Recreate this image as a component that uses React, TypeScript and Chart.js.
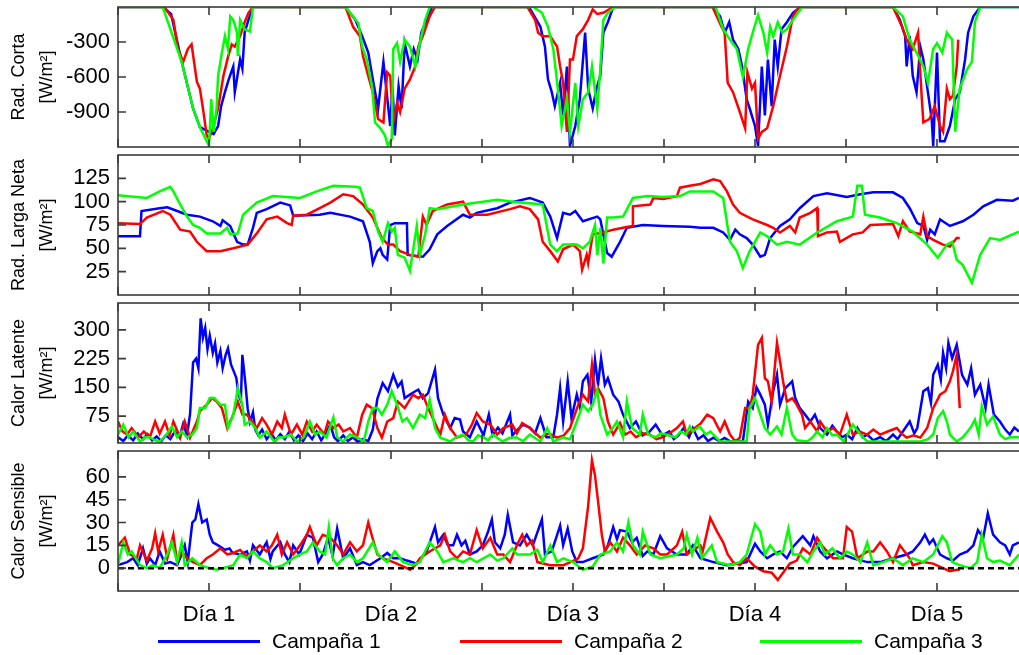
import React, { useEffect, useRef } from "react";
import { Chart, registerables } from "chart.js";

Chart.register(...registerables);

// ---------- axis / label data ----------
const xTickHours = [0, 12, 24, 36, 48, 60, 72, 84, 96, 108, 120];
const dayLabelHours = [12, 36, 60, 84, 108];
const dayLabels = ["Día 1", "Día 2", "Día 3", "Día 4", "Día 5"];
const seriesNames = ["Campaña 1", "Campaña 2", "Campaña 3"];
const seriesColors = ["#0000ff", "#ff0000", "#00ff00"];

const radCortaTitle = ["Rad. Corta", "[W/m²]"];
const radLargaTitle = ["Rad. Larga Neta", "[W/m²]"];
const latenteTitle = ["Calor Latente", "[W/m²]"];
const sensibleTitle = ["Calor Sensible", "[W/m²]"];

const radCortaTicks = [-900, -600, -300];
const radLargaTicks = [25, 50, 75, 100, 125];
const latenteTicks = [75, 150, 225, 300];
const sensibleTicks = [0, 15, 30, 45, 60];

// ---------- series: [hour, value] ----------
const radCortaC1 = [[0,0],[5.9,0],[7,-60],[8.4,-470],[9.9,-870],[10.8,-1030],[11.7,-1060],[12.6,-1090],[13.2,-1020],[13.6,-850],[14.1,-730],[14.6,-620],[15.2,-510],[15.4,-730],[16.1,-450],[16.4,-530],[16.7,-220],[17.2,-110],[17.8,0],
[30,0],[31.3,-110],[32.2,-250],[33,-390],[33.6,-620],[34.3,-870],[35,-470],[35.9,-1020],[36.2,-680],[36.5,-1100],[37,-680],[37.4,-870],[37.8,-310],[38.5,-510],[39,-360],[39.5,-450],[40,-220],[40.7,-110],[41.4,0],
[54.2,0],[55.7,-170],[56.3,-340],[56.7,-620],[57.2,-730],[57.6,-850],[58.3,-650],[58.7,-930],[59.2,-510],[59.6,-1190],[60.3,-1020],[60.9,-790],[61.6,-220],[62,-700],[62.6,-870],[63.1,-700],[63.6,-590],[64,-220],[64.6,-130],[65.3,0],
[78.4,0],[79.4,-80],[80,-220],[80.6,-130],[81.1,-280],[81.8,-360],[82.3,-510],[82.9,-790],[83.3,-870],[84,-1020],[84.4,-1190],[84.9,-510],[85.3,-930],[85.7,-450],[86.2,-850],[86.6,-280],[87,-510],[87.5,-190],[88.2,-130],[89,-50],[90,0],
[102.2,0],[103.1,-110],[103.8,-250],[104,-510],[104.4,-250],[104.8,-590],[105.3,-730],[105.8,-340],[106.2,-450],[106.8,-730],[107.3,-960],[107.5,-1190],[108,-390],[108.4,-1150],[109,-1150],[109.7,-1020],[110.4,-790],[111,-730],[111.7,-450],[112.1,-220],[112.8,-80],[113.7,0],[120,0]];

const radCortaC2 = [[0,0],[6.1,0],[7.3,-110],[7.9,-360],[8.6,-470],[9.2,-360],[9.7,-320],[10.4,-640],[10.8,-700],[11.2,-870],[11.7,-1100],[12,-1130],[12.5,-1040],[13.2,-870],[13.9,-590],[14.5,-430],[15,-320],[15.4,-340],[16.1,-250],[16.7,-130],[17.2,-50],[17.8,0],
[30,0],[31,-170],[31.9,-250],[32.3,-420],[33,-590],[33.6,-730],[34.3,-960],[35,-990],[35.5,-560],[35.9,-590],[36.3,-990],[36.8,-820],[37.2,-900],[37.8,-700],[38.5,-620],[39.2,-510],[39.6,-340],[40.2,-250],[41.1,-80],[41.8,0],
[54,0],[55,-110],[55.4,-220],[56,-250],[57,-250],[57.9,-340],[58.3,-510],[58.7,-650],[59.2,-1070],[59.6,-450],[60,-450],[60.5,-250],[60.9,-220],[61.3,-190],[62,-110],[62.6,-20],[63.2,-60],[64,-50],[65.3,0],
[78.4,0],[79.6,-170],[80,-220],[80.4,-650],[81.1,-730],[82,-900],[82.7,-1040],[83,-560],[83.6,-700],[84,-650],[84.4,-1130],[84.9,-1070],[85.6,-1040],[86.4,-850],[87.3,-590],[88.2,-340],[89,-80],[89.8,0],
[102.2,0],[103.4,-170],[104,-280],[104.8,-360],[105.5,-220],[106,-790],[106.2,-990],[107,-960],[107.7,-850],[108.4,-1020],[108.8,-1070],[109.3,-700],[109.7,-790],[110.1,-760],[110.6,-510],[110.8,-280]];

const radCortaC3 = [[0,0],[5.9,0],[8.4,-470],[9.9,-870],[10.8,-1030],[12,-1190],[12.3,-790],[12.6,-1070],[13,-870],[13.2,-590],[13.7,-390],[14.1,-250],[14.5,-360],[14.8,-80],[15.2,-110],[15.7,-220],[15.8,-420],[16.1,-110],[16.7,-190],[17.4,-210],[17.8,0],
[30,0],[31.7,-140],[32.2,-340],[32.8,-450],[33.5,-680],[33.9,-990],[34.6,-1040],[35.2,-1100],[35.6,-1190],[36.1,-1130],[36.3,-360],[36.8,-310],[37.2,-470],[37.8,-280],[38.5,-340],[39.2,-510],[39.8,-310],[40.5,-110],[41.1,0],
[54.8,0],[55.9,-50],[56.7,-170],[57.4,-360],[58,-700],[58.5,-1020],[59.2,-790],[59.6,-1070],[60.3,-650],[60.7,-1020],[61.3,-790],[62,-730],[62.5,-510],[63.2,-870],[63.6,-530],[64,-110],[64.6,-50],[65.5,0],
[78.8,0],[79.8,-190],[80.7,-280],[81.6,-360],[82.4,-600],[83.1,-360],[83.7,-220],[84.4,-70],[85.1,-220],[85.6,-390],[86,-170],[86.4,-250],[87,-130],[87.6,-220],[88.2,-190],[89,-110],[90.2,0],
[102.2,0],[103.5,-80],[104.4,-280],[105.3,-390],[106.2,-510],[106.8,-650],[107.5,-360],[108,-310],[108.7,-390],[109.3,-220],[110,-280],[110.4,-1070],[111,-700],[112,-530],[112.6,-470],[113,-130],[113.7,0],[120,0]];

const radLargaC1 = [[0,63],[2.9,63],[3.1,90],[5.5,93],[6.5,94],[7.8,90],[9.1,86],[10.8,84],[12.5,79],[13.5,74],[13.8,80],[14.8,74],[15.7,57],[16.5,54],[17.1,54],[17.8,72],[18.3,88],[19.6,92],[21.4,99],[22.7,96],[23.1,85],[26.6,86],[28,88],[30.6,84],[32.3,79],[33.2,57],[33.6,34],[34.2,47],[34.6,50],[34.9,43],[35.5,38],[35.9,75],[36.5,77],[38.1,77],[38.2,43],[40.2,41],[41.1,49],[42.1,65],[43.4,74],[45.5,86],[46.4,83],[47.3,88],[50,93],[51.7,99],[54.3,104],[56,99],[57,84],[57.9,61],[58.7,88],[59.6,86],[60.3,90],[61.3,79],[63.2,84],[63.6,81],[64.5,45],[65.1,41],[66.2,57],[67.1,72],[69.2,75],[71.9,74],[75.4,73],[76.8,72],[78.5,72],[79.8,67],[80.7,59],[81.4,70],[82,65],[82.9,61],[83.7,54],[84.7,41],[85.3,43],[86,61],[87.3,74],[88.6,81],[89.9,93],[91.7,106],[93.5,109],[96.1,105],[97.9,108],[99.6,110],[102.2,110],[103.5,104],[104.4,93],[105.4,77],[106.2,74],[106.7,59],[107.1,70],[107.7,65],[108.4,81],[109.7,74],[111.4,79],[112.8,86],[114.1,95],[115.9,102],[118,101],[118.8,104]];

const radLargaC2 = [[0,77],[2.9,76],[3.8,83],[5.9,90],[6.9,86],[8.2,70],[9.5,68],[10.4,57],[11.7,47],[13.5,47],[15.2,50],[17.1,54],[18.3,66],[19.6,81],[21,84],[22.3,77],[22.9,75],[23.1,85],[24.9,86],[26.6,93],[28,99],[29.7,108],[31,106],[32.3,97],[33.6,83],[34.8,61],[35.6,54],[36.3,54],[37.2,47],[38.5,43],[39.6,41],[40.2,84],[40.7,75],[41.5,90],[43.4,97],[45.5,100],[46.4,86],[48.7,86],[51.7,92],[53,95],[54.3,92],[55.4,81],[56,57],[57,47],[58,36],[58.7,49],[60,54],[60.9,47],[61.2,27],[61.8,43],[62,34],[62.6,65],[64,67],[65.3,70],[66.6,72],[67.8,74],[67.9,95],[70.2,97],[70.6,104],[71.9,103],[73.7,106],[74.1,115],[75.4,117],[76.8,119],[78.5,124],[79.4,122],[80.3,111],[81.1,97],[82,88],[83.7,81],[85.6,75],[86.4,72],[87.3,67],[88.6,74],[89.3,67],[89.9,83],[91.3,88],[92.2,93],[92.3,63],[93.5,67],[94.8,68],[95.2,57],[96.9,65],[98.2,67],[99.2,75],[102.2,76],[102.9,63],[103.5,79],[104.4,68],[105.8,65],[106.2,84],[106.7,63],[107.5,59],[108.8,54],[109.7,52],[110.6,61],[111,61]];

const radLargaC3 = [[0,107],[3.8,104],[5.5,111],[6.9,116],[7.3,111],[8.2,97],[9.1,84],[9.9,75],[10.8,72],[11.7,66],[13.5,66],[14.4,72],[14.8,65],[15.8,66],[16.5,86],[18.3,99],[20.4,106],[24,104],[26.2,111],[28.4,117],[31.3,116],[31.9,115],[32.8,93],[33.6,90],[34.3,68],[34.9,57],[35.6,77],[36.1,68],[36.5,72],[36.9,43],[37.8,40],[38.5,26],[39.4,74],[39.8,43],[40.5,65],[41.1,93],[42.1,92],[45.5,97],[50,102],[52.1,100],[56,97],[57,54],[57.9,47],[58.7,54],[60.5,54],[61.3,50],[62.2,57],[62.9,75],[63.2,43],[63.6,72],[64,34],[64.5,83],[65.3,83],[66.6,84],[67.9,104],[69.8,106],[71.9,105],[74.1,106],[75.4,111],[76.4,111],[78.5,111],[79.8,104],[80.7,57],[81.6,47],[82.4,29],[83.3,47],[84.7,67],[85.6,63],[86.9,54],[88.2,57],[89.9,54],[92.2,67],[94.8,79],[96.9,84],[97.5,117],[98.1,117],[98.5,86],[100.5,83],[102.7,77],[104.8,68],[106.7,54],[108.1,40],[109.3,54],[110,57],[110.6,38],[111.4,32],[112.6,13],[113.7,43],[115,61],[116.3,59],[118.8,68]];

const latenteC1 = [[0,20],[0.7,10],[1.3,25],[2,12],[2.6,30],[3.3,15],[3.9,28],[4.5,12],[5.1,22],[5.7,10],[6.3,25],[6.9,15],[7.5,35],[8.1,20],[8.6,55],[9.1,25],[9.5,80],[9.9,215],[10.3,225],[10.6,200],[10.9,330],[11.2,280],[11.5,305],[11.8,250],[12.1,285],[12.5,240],[12.8,265],[13.1,215],[13.5,245],[13.8,200],[14.2,235],[14.5,252],[14.9,210],[15.2,195],[15.6,175],[15.9,130],[16.2,115],[16.4,235],[16.8,160],[17.1,95],[17.4,60],[17.8,85],[18.1,40],[18.5,25],[19,40],[19.6,15],[20.2,30],[20.8,12],[21.4,28],[22,15],[22.6,35],[23.2,12],[23.8,25],[24.4,10],[25,30],[25.6,15],[26.2,35],[26.8,12],[27.4,30],[28,53],[28.5,20],[29,10],[29.7,25],[30.3,10],[31,20],[31.6,8],[32.3,15],[33,10],[33.6,40],[34.2,120],[34.9,161],[35.6,140],[36.3,183],[36.9,152],[37.4,165],[37.8,122],[38.5,131],[39.2,140],[39.6,144],[40.2,122],[40.9,135],[41.8,196],[42.2,122],[42.9,79],[43.8,44],[44.4,70],[45.1,66],[45.5,35],[46.4,20],[47.3,61],[48.2,25],[48.9,79],[49.4,25],[50.1,45],[50.7,30],[51.7,79],[52,25],[52.7,40],[53.4,53],[54.3,45],[55,30],[55.7,70],[56.5,20],[57.4,20],[57.9,80],[58.3,148],[58.7,61],[59.3,166],[59.8,70],[60.5,131],[60.9,100],[61.3,166],[61.9,183],[62.4,113],[62.9,222],[63.3,157],[63.7,226],[64.2,157],[64.6,174],[65.3,131],[66,113],[66.6,79],[67.5,44],[68.3,61],[69.2,25],[70.1,35],[70.9,53],[71.8,25],[72.7,35],[73.3,15],[73.9,25],[74.6,44],[75.3,20],[75.8,44],[76.5,15],[77.2,25],[77.8,10],[78.5,19],[79.3,10],[80,18],[80.8,8],[81.6,12],[82.4,9],[83.1,113],[83.7,96],[84.2,150],[84.7,131],[85.3,105],[85.7,53],[86.4,140],[86.9,183],[87.3,105],[88,148],[88.9,166],[89.3,122],[89.9,96],[90.6,79],[91.3,61],[91.9,79],[92.6,44],[93.5,27],[94.2,50],[94.8,35],[95.5,20],[96.1,27],[96.8,15],[97.5,44],[98.2,20],[98.8,27],[99.6,12],[100.5,20],[101.3,10],[102.2,27],[102.8,15],[103.5,35],[104.4,61],[105,30],[105.4,44],[106.2,140],[106.8,148],[107.2,110],[107.5,183],[108.1,209],[108.5,170],[108.8,240],[109.2,200],[109.5,266],[110,226],[110.6,261],[111.3,183],[112,157],[112.5,200],[113,131],[113.7,157],[114.4,96],[114.8,157],[115.5,79],[116.3,61],[117,40],[117.6,27],[118.2,45],[118.8,35]];

const latenteC2 = [[0,61],[0.6,35],[1.2,27],[1.8,44],[2.7,20],[3.4,35],[4.2,20],[4.9,61],[5.5,30],[6.2,61],[6.8,25],[7.3,61],[8.2,19],[8.8,61],[9.5,19],[10.4,61],[10.8,88],[11.7,105],[12.4,122],[13,113],[13.7,96],[14.4,44],[15.2,79],[15.8,113],[16.4,79],[17,79],[17.7,61],[18.3,44],[19,70],[19.6,53],[20.3,27],[21,61],[21.6,44],[22,79],[22.8,27],[23.6,53],[24.3,27],[24.9,61],[25.6,35],[26.2,53],[27.2,27],[27.7,61],[28.4,44],[29.1,53],[29.7,35],[30.6,44],[31.5,19],[32.2,79],[32.8,105],[33.5,96],[34.2,44],[34.8,19],[35.5,61],[36.3,70],[36.9,113],[37.8,96],[38.9,131],[39.6,122],[40.2,131],[40.9,96],[41.5,70],[42.5,27],[43.1,79],[43.8,44],[44.7,19],[45.9,27],[46.6,50],[47.3,83],[48.1,61],[49.1,53],[50,27],[50.8,44],[52,53],[52.6,30],[53.3,57],[54.3,44],[55.7,19],[56.8,30],[57.9,19],[58.8,25],[59.6,44],[60.7,105],[61.3,131],[62,113],[62.5,209],[62.9,131],[63.3,148],[64,122],[64.6,61],[65.3,27],[66.2,57],[66.9,27],[67.6,35],[68.3,20],[69.2,30],[70.1,27],[71,15],[71.8,20],[72.7,30],[73.7,44],[74.5,61],[75,27],[75.8,40],[76.8,55],[77.7,79],[78.5,70],[79.4,35],[80,61],[80.7,27],[81.4,9],[82,19],[82.7,96],[83.3,96],[83.7,131],[84.4,261],[84.9,279],[85.3,174],[85.7,166],[86.2,113],[86.9,266],[87.3,218],[87.7,166],[88.2,113],[88.9,122],[89.5,105],[90.2,79],[90.6,44],[91.3,61],[92.2,35],[92.6,61],[93.5,35],[94.3,44],[95.2,27],[96.1,79],[96.9,27],[97.8,35],[98.8,27],[99.6,40],[100.5,27],[101.5,35],[102.7,44],[103.3,30],[104,19],[104.9,25],[105.8,19],[106.7,44],[107.5,96],[108.4,131],[109.1,140],[109.7,166],[110.1,192],[110.6,235],[111,96]];

const latenteC3 = [[0,27],[0.7,53],[1.4,20],[2,35],[2.9,9],[3.6,20],[4.2,20],[4.9,12],[5.5,9],[6.4,27],[7.1,48],[7.8,20],[8.4,35],[9.1,20],[9.8,27],[10.4,44],[10.8,96],[11.5,96],[12.1,122],[12.7,122],[13.5,105],[14.1,105],[14.5,44],[15.2,79],[15.8,148],[16.4,105],[16.7,53],[17.4,61],[18.1,44],[18.7,19],[19.6,35],[20.6,9],[21.2,20],[21.9,20],[22.8,27],[23.6,9],[24.5,20],[25.3,61],[26,27],[26.6,35],[27.5,20],[28.4,72],[28.9,20],[29.7,9],[30.6,27],[31.5,20],[32.4,9],[33,61],[33.6,96],[34.2,96],[34.8,79],[35.5,105],[36.1,140],[36.8,105],[37.5,61],[38.1,70],[38.9,44],[39.8,79],[40.5,70],[41.1,118],[41.8,44],[42.5,19],[43.8,9],[44.6,20],[45.5,27],[46.2,12],[46.8,9],[47.5,25],[48.2,20],[48.8,12],[49.4,27],[50.7,9],[51.6,18],[52.5,20],[53.4,10],[54.3,27],[55.7,9],[56.6,44],[57.4,9],[58.7,20],[59.6,15],[60.5,61],[61.3,105],[62,88],[62.6,105],[63.2,144],[63.6,79],[64.5,27],[65.1,40],[65.8,61],[66.6,20],[67.1,113],[67.8,44],[68.8,27],[69.2,79],[69.9,27],[70.9,20],[71.6,30],[72.2,27],[73.5,20],[74.2,35],[74.9,27],[75.4,48],[75.8,35],[76.7,48],[77.5,27],[78.1,35],[79.4,9],[81.1,9],[82.9,9],[83.3,96],[84,122],[84.7,79],[85.3,44],[86,27],[86.9,48],[87.5,27],[88.2,96],[88.9,27],[89.5,12],[90.9,9],[91.6,20],[92.2,35],[92.9,20],[93.5,44],[94.2,25],[94.8,27],[95.7,9],[96.9,53],[97.9,27],[98.8,9],[100.5,9],[102.2,9],[104,9],[105.8,9],[106.8,15],[107.5,27],[108.1,70],[108.8,88],[109.3,61],[109.7,27],[110.6,9],[111.4,20],[112.4,44],[113,66],[113.5,27],[113.9,101],[114.6,53],[115.4,74],[116.3,27],[117,15],[117.6,20],[118.8,20]];

const sensibleC1 = [[0,2],[1.2,4],[2,6.5],[2.6,2],[3.3,13],[3.8,3],[4.2,6.5],[4.9,2],[5.5,11],[6.2,3],[6.9,4],[7.8,2],[8.3,8],[8.8,15],[9.2,4],[9.8,30],[10.2,32],[10.6,42],[11.1,30],[11.7,32],[12.1,22],[12.5,17],[13.2,15],[14.1,12],[14.7,13],[15.1,10],[16.1,9],[17,11],[17.4,5],[17.8,15],[18.7,9],[19.6,17],[20.1,6],[20.4,11],[21.4,17],[22,9],[22.6,4],[23.1,15],[23.9,9],[24.9,22],[25.7,20],[26.4,4],[27,9],[27.7,20],[28.3,8],[28.9,26],[29.7,6.5],[30.6,13],[31.5,2],[32.3,4],[33.2,2],[34.6,6.5],[35.5,10],[36.3,6.5],[37.2,6.5],[38.1,5],[39.4,3],[40.7,11],[41.8,27],[42.2,17],[42.9,22],[43.5,15],[44.2,15],[44.7,22],[45.3,15],[45.8,18],[46.4,9],[47.3,11],[48.1,15],[48.8,24],[49.3,32],[49.7,17],[50.4,13],[51,22],[51.4,35],[52.1,17],[53,15],[53.9,22],[54.7,15],[55.9,32],[56.3,9],[57.2,11],[58.3,28],[58.7,15],[59.3,26],[59.9,11],[60.5,4],[61.3,4],[62.6,6.5],[64,9],[64.6,15],[65.3,27],[65.8,19],[66.2,25],[67.1,24],[67.8,17],[68.4,20],[69.2,8],[69.8,11],[70.6,9],[71.5,21],[72.4,13],[73.7,9],[75,9],[75.8,15],[76.8,6.5],[78.5,4],[80.3,2],[82.9,4],[84,16],[84.7,11],[85.6,6.5],[86.4,9],[87.3,11],[88.2,6.5],[89,14],[90.3,21],[91.3,15],[91.7,21],[92.6,11],[93.5,6.5],[94.8,11],[95.6,9],[96.9,6.5],[98.8,4],[100.5,4],[102.2,6.5],[104,9],[104.8,11],[105.8,17],[106.4,22],[107,16],[107.5,19],[108.4,9],[109.3,6.5],[110.1,5],[111,9],[112,11],[112.8,15],[113.4,25],[114.1,20],[114.7,36],[115.4,22],[116.3,17],[117,15],[117.6,9],[118,15],[118.8,17]];

const sensibleC2 = [[0,15],[0.9,20],[1.6,9],[2.5,6.5],[2.9,15],[3.8,5],[4.5,13],[4.9,23],[5.3,11],[5.9,22],[6.5,6.5],[7.3,22],[7.8,4],[8.4,11],[9.1,6.5],[9.9,4],[10.8,2],[11.7,6.5],[12.5,9],[13.5,13],[14.4,9],[15.2,10],[16.1,12],[17,7.6],[17.8,11],[18.7,15],[19.6,11],[20.3,15],[21,22],[21.6,9],[22.3,17],[23.1,9],[24,15],[24.9,22],[25.3,27],[26.2,15],[27,22],[28,20],[28.9,15],[29.7,9],[30.6,17],[31.5,11],[32.3,15],[33,30],[33.5,21],[34.2,9],[34.9,6.5],[36.3,4],[37.2,2],[38.1,0],[38.5,-1],[39.2,2],[39.8,6.5],[41.1,11],[42.5,15],[43.1,22],[43.8,11],[44.7,6.5],[45.5,11],[46.4,9],[47.3,25],[48.1,13],[49.1,20],[50,9],[50.8,9],[51.7,4],[52.6,15],[53.3,22],[53.9,15],[54.6,18],[55.3,4],[57,2],[58.7,2],[59.7,4],[60.7,6.5],[61.3,13],[62,41],[62.5,71],[62.9,61],[63.3,44],[63.8,22],[64.2,11],[64.9,17],[65.8,11],[66.6,20],[67.5,15],[68.4,9],[69.5,15],[70.6,13],[71.5,9],[72.4,9],[73.7,15],[74.4,24],[75,9],[75.9,12],[76.8,15],[77.1,11],[78.1,33],[79,24],[79.8,17],[80.4,9],[81.1,4],[82,2],[82.9,6.5],[84,1],[85.1,-2],[86.2,-3],[87,-7.7],[87.7,-3],[88.6,3],[89.5,5],[90.3,13],[91.3,9],[92.2,20],[92.8,15],[93.5,11],[94.3,6.5],[95.6,6.5],[96.1,27],[96.8,24],[97.5,6.5],[98.8,11],[99.6,11],[100.5,17],[101.4,11],[102.2,4],[103.1,15],[104.4,6.5],[104.8,2],[106.2,4],[107.5,3],[108.8,0],[109.7,-2],[110.6,-1],[111,-1]];

const sensibleC3 = [[0,2],[0.7,17],[1.3,9],[1.8,11],[2.9,2],[3.8,0],[4.6,2],[5.5,0],[6.5,9],[7.1,17],[7.8,4],[8.4,17],[8.8,2],[9.8,6.5],[10.8,2],[12.1,0],[13,-1],[13.8,0],[15.2,2],[16.1,9],[17,6.5],[17.8,11],[18.7,6.5],[19.6,4],[20.4,0],[21.8,2],[23.1,6.5],[24,9],[24.9,11],[25.7,17],[26.6,11],[27.3,9],[27.8,27],[28.3,6.5],[28.9,2],[29.7,6.5],[30.6,9],[31.5,4],[32.3,6.5],[33.6,17],[34.3,9],[35.5,4],[36.5,11],[37.6,4],[38.9,2],[39.8,4],[41.1,17],[42.1,11],[42.9,4],[44.2,6.5],[45.5,4],[46.4,6.5],[47.3,4],[49.1,9],[50,5],[50.8,6.5],[52,13],[52.6,9],[54.3,9],[55.3,12],[56,4],[57,15],[57.9,4],[58.7,6.5],[60,4],[61.3,-1],[62.6,1],[63.6,9],[64.9,11],[65.8,17],[66.6,11],[67.3,30],[67.9,15],[68.8,9],[69.2,24],[70.2,9],[71.5,6.5],[73.7,9],[74.6,13],[75,22],[75.7,9],[76.4,20],[77,6.5],[78.3,15],[79,4],[80.7,2],[82,4],[82.9,9],[84,29],[84.7,24],[85.3,9],[86,15],[86.9,9],[87.7,11],[88.4,26],[89,9],[89.9,9],[90.9,4],[91.7,11],[92.6,17],[93.2,9],[94.2,13],[95.2,6.5],[96.1,11],[96.9,9],[97.9,4],[98.8,17],[99.6,2],[100.9,4],[102.2,6.5],[103.5,2],[104.8,6.5],[106.2,4],[107.5,9],[108.7,21],[109.3,17],[110,4],[111,2],[112.4,0],[113.3,4],[113.9,22],[114.6,6.5],[115.4,4],[116.3,5],[117.6,2],[118.8,9]];

const zeroLine = [[0, 0], [120, 0]];

// ---------- layout / style ----------
const FONT = '"Liberation Sans", Arial, Helvetica, sans-serif';
const FRAME_COLOR = "#3a3a3a";
const TICK_LEN = 8;
const CANVAS_W = 1040;

type PanelCfg = {
  title: string[];
  min: number;
  max: number;
  ticks: number[];
  series: number[][][];
  zero?: boolean;
};

const panelCfgs: PanelCfg[] = [
  { title: radCortaTitle, min: -1200, max: 0, ticks: radCortaTicks, series: [radCortaC1, radCortaC2, radCortaC3] },
  { title: radLargaTitle, min: 0, max: 150, ticks: radLargaTicks, series: [radLargaC1, radLargaC2, radLargaC3] },
  { title: latenteTitle, min: 5, max: 370, ticks: latenteTicks, series: [latenteC1, latenteC2, latenteC3] },
  { title: sensibleTitle, min: -15, max: 77, ticks: sensibleTicks, series: [sensibleC1, sensibleC2, sensibleC3], zero: true },
];
const panelTops = [7, 155, 303, 451];
const PANEL_H = 140;

const framePlugin = {
  id: "frame",
  afterDraw(chart: any) {
    const { ctx, chartArea: a, scales } = chart;
    const x = scales.x;
    const y = scales.y;
    ctx.save();
    ctx.strokeStyle = FRAME_COLOR;
    ctx.lineWidth = 1.6;
    ctx.strokeRect(a.left, a.top, a.right - a.left, a.bottom - a.top);
    ctx.beginPath();
    xTickHours.forEach((h) => {
      const px = x.getPixelForValue(h);
      ctx.moveTo(px, a.top);
      ctx.lineTo(px, a.top + TICK_LEN);
      ctx.moveTo(px, a.bottom);
      ctx.lineTo(px, a.bottom - TICK_LEN);
    });
    y.ticks.forEach((t: any) => {
      const py = y.getPixelForValue(t.value);
      ctx.moveTo(a.left, py);
      ctx.lineTo(a.left + TICK_LEN, py);
      ctx.moveTo(a.right, py);
      ctx.lineTo(a.right - TICK_LEN, py);
    });
    ctx.stroke();
    ctx.restore();
  },
};

function Panel({ cfg, top, isBottom }: { cfg: PanelCfg; top: number; isBottom: boolean }) {
  const ref = useRef<HTMLCanvasElement>(null);
  const padTop = 10;
  const padBottom = isBottom ? 2 : 10;
  const xAxisH = isBottom ? 40 : 0;
  const H = padTop + PANEL_H + xAxisH + padBottom;

  useEffect(() => {
    if (!ref.current) return;
    const datasets: any[] = cfg.series.map((s, i) => ({
      label: seriesNames[i],
      data: s.map(([x, y]) => ({ x, y })),
      borderColor: seriesColors[i],
      backgroundColor: seriesColors[i],
      borderWidth: 2.5,
      pointRadius: 0,
      tension: 0,
      order: 3 - i,
    }));
    if (cfg.zero) {
      datasets.push({
        label: "cero",
        data: zeroLine.map(([x, y]) => ({ x, y })),
        borderColor: "#000000",
        borderDash: [6, 4],
        borderWidth: 2.5,
        pointRadius: 0,
        order: 0,
      });
    }
    const noPad = (s: any) => {
      s.paddingTop = 0;
      s.paddingBottom = 0;
      s.paddingLeft = 0;
      s.paddingRight = 0;
    };
    const chart = new Chart(ref.current, {
      type: "line",
      data: { datasets },
      options: {
        responsive: false,
        maintainAspectRatio: false,
        animation: false,
        events: [],
        layout: { padding: { left: 0, right: CANVAS_W - 1028, top: padTop, bottom: padBottom } },
        plugins: { legend: { display: false }, tooltip: { enabled: false } },
        scales: {
          x: {
            type: "linear",
            min: 0,
            max: 120,
            display: isBottom,
            grid: { display: false, drawTicks: false },
            border: { display: false },
            afterBuildTicks: (s: any) => {
              s.ticks = dayLabelHours.map((v) => ({ value: v }));
            },
            afterFit: (s: any) => {
              s.height = xAxisH;
              noPad(s);
            },
            ticks: {
              padding: 11,
              color: "#000",
              autoSkip: false,
              maxRotation: 0,
              font: { family: FONT, size: 22 },
              callback: (v: any) => {
                const i = dayLabelHours.indexOf(Number(v));
                return i >= 0 ? dayLabels[i] : "";
              },
            },
          },
          y: {
            type: "linear",
            min: cfg.min,
            max: cfg.max,
            grid: { display: false, drawTicks: false },
            border: { display: false },
            afterBuildTicks: (s: any) => {
              s.ticks = cfg.ticks.map((v) => ({ value: v }));
            },
            afterFit: (s: any) => {
              s.width = 118;
              noPad(s);
            },
            ticks: {
              padding: 8,
              color: "#000",
              font: { family: FONT, size: 22 },
              callback: (v: any) => String(v),
            },
            title: {
              display: true,
              text: cfg.title,
              color: "#000",
              font: { family: FONT, size: 18, lineHeight: 1.55 },
              padding: { top: 5, bottom: 0 },
            },
          },
        },
      },
      plugins: [framePlugin],
    } as any);
    return () => chart.destroy();
  }, []);

  return (
    <canvas
      ref={ref}
      width={CANVAS_W}
      height={H}
      style={{ position: "absolute", left: 0, top: top - padTop, width: CANVAS_W, height: H }}
    />
  );
}

const legendLefts = [158, 460, 760];

export default function App() {
  return (
    <div
      style={{
        position: "absolute",
        left: 0,
        top: 0,
        width: 1019,
        height: 655,
        overflow: "hidden",
        background: "#ffffff",
      }}
    >
      {panelCfgs.map((cfg, i) => (
        <Panel key={i} cfg={cfg} top={panelTops[i]} isBottom={i === panelCfgs.length - 1} />
      ))}
      {seriesNames.map((name, i) => (
        <div
          key={name}
          style={{
            position: "absolute",
            left: legendLefts[i],
            top: 628,
            height: 26,
            display: "flex",
            alignItems: "center",
            fontFamily: FONT,
            fontSize: 21,
            color: "#000",
            whiteSpace: "nowrap",
          }}
        >
          <span style={{ display: "inline-block", width: 102, height: 0, borderTop: `3px solid ${seriesColors[i]}`, marginRight: 12 }} />
          <span>{name}</span>
        </div>
      ))}
    </div>
  );
}
